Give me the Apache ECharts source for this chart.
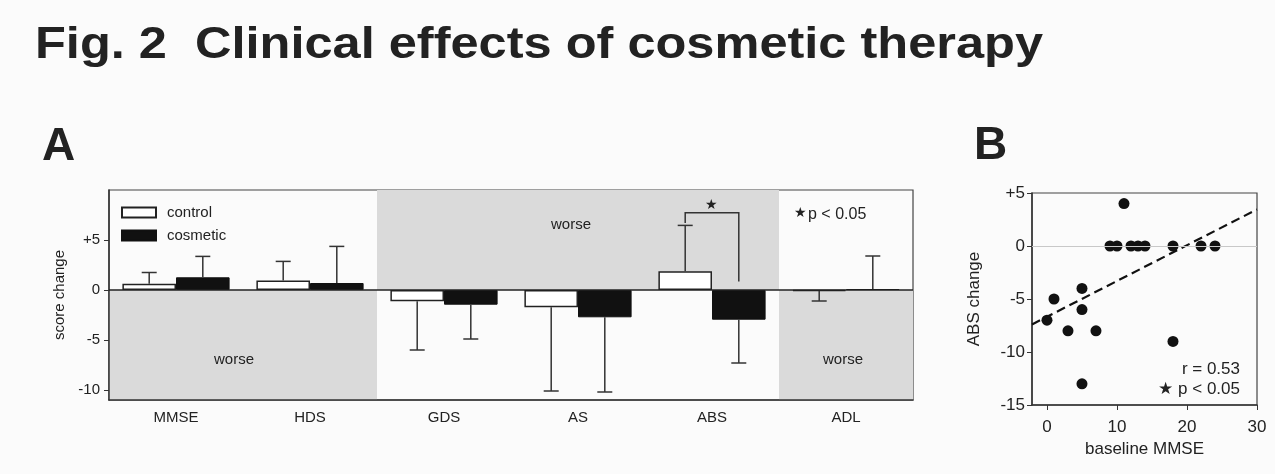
<!DOCTYPE html>
<html><head><meta charset="utf-8">
<script src="https://cdn.jsdelivr.net/npm/echarts@6/dist/echarts.min.js"></script>
<style>html,body{margin:0;padding:0;background:#fbfbfb}#c{width:1275px;height:474px}</style>
</head><body><div id="c"></div><script>
// ---- Panel A data ----
const categories = ['MMSE', 'HDS', 'GDS', 'AS', 'ABS', 'ADL'];
const controlMean = [0.63, 0.96, -1.13, -1.73, 1.87, -0.1];
const controlSD = [1.12, 1.9, 4.87, 8.37, 4.59, 1.0];
const cosmeticMean = [1.27, 0.7, -1.47, -2.73, -2.97, 0.1];
const cosmeticSD = [2.09, 3.66, 3.43, 7.47, 4.33, 3.3];
const scoreTicks = [-10, -5, 0, 5];
// shaded "worse" zones: [fromCategoryEdge, toCategoryEdge, scoreLow, scoreHigh]
const worseZones = [[0, 2, -11, 0], [2, 5, 0, 10], [5, 6, -11, 0]];
// significance bracket on ABS: [categoryIndex, leftEnd, top, rightEnd]
const sigBracket = [[4, 6.7, 7.73, 0.86]];
// ---- Panel B data ----
const baselineMMSE = [0, 1, 3, 5, 5, 5, 7, 9, 10, 11, 12, 13, 14, 18, 18, 22, 24];
const absChange = [-7, -5, -8, -4, -6, -13, -8, 0, 0, 4, 0, 0, 0, 0, -9, 0, 0];
const regX = [-2.14, 30];
const regY = [-7.4, 3.45];
const mmseTicks = [0, 10, 20, 30];
const absTicks = [-15, -10, -5, 0, 5];
// ---- Title ----
const titleText = 'Fig. 2  Clinical effects of cosmetic therapy';

const FF = 'Liberation Sans, Arial, sans-serif';
const INK = '#222';
const fmtSigned = v => (v > 0 ? '+' + v : String(v));

const chart = echarts.init(document.getElementById('c'), null, {renderer: 'canvas'});

function errRender(params, api) {
  const cat = api.value(0), mean = api.value(1), sd = api.value(2), side = api.value(3);
  const band = api.size([1, 0])[0];
  const x = api.coord([cat, 0])[0] + side * band * 0.2;
  const end = mean + (mean >= 0 ? 1 : -1) * sd;
  const y0 = api.coord([cat, mean])[1], y1 = api.coord([cat, end])[1];
  const cap = 7.5;
  return {type: 'group', children: [
    {type: 'line', shape: {x1: x, y1: y0, x2: x, y2: y1}, style: {stroke: '#333', lineWidth: 1.5}},
    {type: 'line', shape: {x1: x - cap, y1: y1, x2: x + cap, y2: y1}, style: {stroke: '#333', lineWidth: 1.5}}
  ]};
}

function txt(text, x, y, size, opts) {
  opts = opts || {};
  return {
    type: 'text', x: x, y: y, scaleX: opts.scaleX || 1, z: 100,
    style: {
      text: text, x: 0, y: 0, fill: opts.fill || INK,
      font: (opts.weight || 'normal') + ' ' + size + 'px ' + FF,
      textAlign: opts.align || 'left', align: opts.align || 'left',
      textVerticalAlign: 'middle', verticalAlign: 'middle'
    }
  };
}

// stretch the heading to the span it covers in the reference (x 35 .. 1043)
const measureCtx = document.createElement('canvas').getContext('2d');
measureCtx.font = 'bold 44px ' + FF;
const titleScale = (1043 - 35) / measureCtx.measureText(titleText).width;

const option = {
  backgroundColor: '#fbfbfb',
  animation: false,
  textStyle: {fontFamily: FF},
  legend: {
    data: ['control', 'cosmetic'], orient: 'vertical', left: 121, top: 205,
    itemWidth: 34, itemHeight: 10, itemGap: 8, padding: 0, icon: 'rect',
    textStyle: {fontSize: 15, color: INK, fontFamily: FF, padding: [0, 0, 0, 6]},
    selectedMode: false
  },
  graphic: [
    txt(titleText, 35, 46, 44, {weight: 'bold', scaleX: titleScale}),
    txt('A', 42, 147, 46, {weight: 'bold'}),
    txt('B', 974, 146, 46, {weight: 'bold'}),
    txt('worse', 234, 360, 15, {align: 'center'}),
    txt('worse', 571, 225, 15, {align: 'center'}),
    txt('worse', 843, 360, 15, {align: 'center'}),
    txt('★', 794, 213, 14),
    txt('p < 0.05', 808, 215, 16),
    txt('r = 0.53', 1240, 369, 17, {align: 'right'}),
    txt('★ p < 0.05', 1240, 389, 17, {align: 'right'})
  ],
  grid: [
    {left: 109, top: 190, width: 804, height: 210, show: true, borderColor: '#444', borderWidth: 1.2, backgroundColor: 'transparent'},
    {left: 1032, top: 193, width: 225, height: 212, show: true, borderColor: '#444', borderWidth: 1.2, backgroundColor: 'transparent'}
  ],
  xAxis: [
    {gridIndex: 0, type: 'category', data: categories, boundaryGap: true,
      axisLine: {onZero: false, lineStyle: {color: '#333', width: 1.5}},
      axisTick: {alignWithLabel: true, length: 4, lineStyle: {color: '#333'}},
      axisLabel: {fontSize: 15, color: INK, margin: 10, fontFamily: FF},
      splitLine: {show: false}},
    {gridIndex: 0, type: 'value', min: 0, max: 6, show: false},
    {gridIndex: 1, type: 'value', min: regX[0], max: 30,
      name: 'baseline MMSE', nameLocation: 'middle', nameGap: 36,
      nameTextStyle: {fontSize: 17, color: INK, fontFamily: FF},
      axisLine: {onZero: false, lineStyle: {color: '#333', width: 1.5}},
      axisTick: {customValues: mmseTicks, length: 5, lineStyle: {color: '#333'}},
      axisLabel: {customValues: mmseTicks, fontSize: 17, color: INK, margin: 14, fontFamily: FF},
      splitLine: {show: false}}
  ],
  yAxis: [
    {gridIndex: 0, type: 'value', min: -11, max: 10,
      name: 'score change', nameLocation: 'middle', nameGap: 41,
      nameTextStyle: {fontSize: 15, color: INK, fontFamily: FF},
      axisLine: {show: true, onZero: false, lineStyle: {color: '#333', width: 1.5}},
      axisTick: {show: true, customValues: scoreTicks, length: 5, lineStyle: {color: '#333'}},
      axisLabel: {customValues: scoreTicks, formatter: fmtSigned, fontSize: 15, color: INK, margin: 9, fontFamily: FF},
      splitLine: {show: false}},
    {gridIndex: 1, type: 'value', min: absTicks[0], max: absTicks[absTicks.length - 1], interval: 5,
      name: 'ABS change', nameLocation: 'middle', nameGap: 49,
      nameTextStyle: {fontSize: 17, color: INK, fontFamily: FF},
      axisLine: {show: true, onZero: false, lineStyle: {color: '#333', width: 1.5}},
      axisTick: {show: true, length: 5, lineStyle: {color: '#333'}},
      axisLabel: {formatter: fmtSigned, fontSize: 17, color: INK, margin: 7, fontFamily: FF},
      splitLine: {show: false}}
  ],
  series: [
    {type: 'custom', name: 'zones', xAxisIndex: 1, yAxisIndex: 0, z: 0, silent: true,
      encode: {x: [0, 1], y: [2, 3]},
      data: worseZones,
      renderItem: (p, api) => {
        const a = api.coord([api.value(0), api.value(3)]);
        const b = api.coord([api.value(1), api.value(2)]);
        return {type: 'rect', shape: {x: a[0], y: a[1], width: b[0] - a[0], height: b[1] - a[1]}, style: {fill: '#dadada'}};
      }},
    {type: 'bar', name: 'control', xAxisIndex: 0, yAxisIndex: 0, data: controlMean,
      barWidth: '40%', barGap: '0%', z: 3,
      itemStyle: {color: '#ffffff', borderColor: '#222', borderWidth: 1.5}},
    {type: 'bar', name: 'cosmetic', xAxisIndex: 0, yAxisIndex: 0, data: cosmeticMean,
      barWidth: '40%', barGap: '0%', z: 3,
      itemStyle: {color: '#111111', borderColor: '#111', borderWidth: 1},
      markLine: {silent: true, symbol: 'none', label: {show: false},
        lineStyle: {color: '#222', width: 1.5, type: 'solid'}, data: [{yAxis: 0}]}},
    {type: 'custom', name: 'errControl', xAxisIndex: 0, yAxisIndex: 0, z: 4, silent: true,
      data: controlMean.map((m, i) => [i, m, controlSD[i], -1]), renderItem: errRender},
    {type: 'custom', name: 'errCosmetic', xAxisIndex: 0, yAxisIndex: 0, z: 4, silent: true,
      data: cosmeticMean.map((m, i) => [i, m, cosmeticSD[i], 1]), renderItem: errRender},
    {type: 'custom', name: 'bracket', xAxisIndex: 0, yAxisIndex: 0, z: 5, silent: true,
      data: sigBracket,
      renderItem: (p, api) => {
        const cat = api.value(0);
        const band = api.size([1, 0])[0];
        const cx = api.coord([cat, 0])[0];
        const lx = cx - band * 0.2, rx = cx + band * 0.2;
        const yl = api.coord([cat, api.value(1)])[1];
        const yt = api.coord([cat, api.value(2)])[1];
        const yr = api.coord([cat, api.value(3)])[1];
        return {type: 'group', children: [
          {type: 'polyline', shape: {points: [[lx, yl], [lx, yt], [rx, yt], [rx, yr]]}, style: {stroke: '#333', lineWidth: 1.5, fill: null}},
          {type: 'text', style: {text: '★', x: cx - 1, y: yt - 8, fill: INK, font: '14px ' + FF,
            textAlign: 'center', align: 'center', textVerticalAlign: 'middle', verticalAlign: 'middle'}}
        ]};
      }},
    {type: 'line', name: 'regression', xAxisIndex: 2, yAxisIndex: 1, z: 3,
      data: regX.map((x, i) => [x, regY[i]]), symbol: 'none', silent: true,
      lineStyle: {color: '#111', width: 2.2, type: [9, 5]},
      markLine: {silent: true, symbol: 'none', label: {show: false},
        lineStyle: {color: '#c8c8c8', width: 1, type: 'solid'}, data: [{yAxis: 0}]}},
    {type: 'scatter', name: 'patients', xAxisIndex: 2, yAxisIndex: 1, z: 4,
      data: baselineMMSE.map((x, i) => [x, absChange[i]]),
      symbol: 'circle', symbolSize: 11, itemStyle: {color: '#111', opacity: 1}}
  ]
};
chart.setOption(option);
</script></body></html>
